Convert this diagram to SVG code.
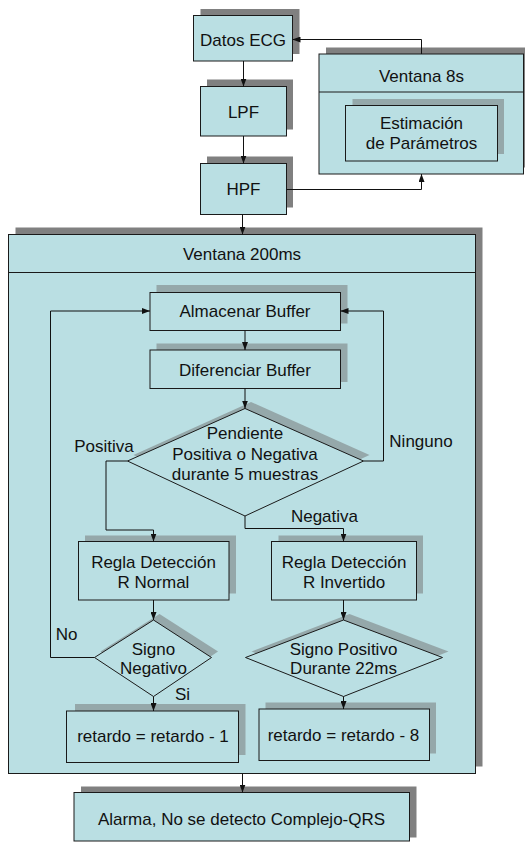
<svg xmlns="http://www.w3.org/2000/svg" width="525" height="842" viewBox="0 0 525 842">
  <style>
    .box { fill: #badfe3; stroke: #1a1a1a; stroke-width: 1; }
    .sh-out { fill: #808080; }
    .sh-in { fill: #95a8aa; }
    .t { font-family: "Liberation Sans", Arial, sans-serif; font-size: 17px; fill: #111; text-anchor: middle; }
    .lbl { font-family: "Liberation Sans", Arial, sans-serif; font-size: 15px; fill: #111; text-anchor: middle; }
    .wire { fill: none; stroke: #111; stroke-width: 1; }
    .arr { marker-end: url(#ah); }
  </style>
  <defs>
    <marker id="ah" viewBox="0 0 8 6" refX="8" refY="3" markerWidth="8" markerHeight="6" orient="auto" markerUnits="userSpaceOnUse">
      <path d="M0,0 L8,3 L0,6 z" fill="#111"/>
    </marker>
  </defs>
  <rect width="525" height="842" fill="#fff"/>

  <!-- Top pipeline -->
  <g id="datos-ecg">
    <rect class="sh-out" x="200.5" y="9" width="99" height="45"/>
    <rect class="box" x="193.5" y="15.5" width="99" height="45.5"/>
    <text class="t" x="243" y="45.5">Datos ECG</text>
  </g>
  <g id="lpf">
    <rect class="sh-out" x="207" y="79.5" width="86" height="50"/>
    <rect class="box" x="200.5" y="86.5" width="86" height="49.5"/>
    <text class="t" x="243.5" y="117.5">LPF</text>
  </g>
  <g id="hpf">
    <rect class="sh-out" x="207" y="156.5" width="86" height="51"/>
    <rect class="box" x="200.5" y="163.5" width="86" height="51"/>
    <text class="t" x="243.5" y="195">HPF</text>
  </g>

  <!-- 8 s window -->
  <g id="ventana-8s">
    <rect class="sh-out" x="326" y="47.5" width="210" height="120"/>
    <rect class="box" x="319" y="54" width="204.5" height="120"/>
    <line x1="319" y1="92" x2="523.5" y2="92" stroke="#1a1a1a" stroke-width="1"/>
    <text class="t" x="421.5" y="81.5">Ventana 8s</text>
  </g>
  <g id="estimacion">
    <rect class="sh-in" x="352.5" y="99" width="151.5" height="55"/>
    <rect class="box" x="345.5" y="105.5" width="152" height="55.5"/>
    <text class="t" x="421.5" y="129">Estimación</text>
    <text class="t" x="421.5" y="149">de Parámetros</text>
  </g>

  <!-- 200 ms window -->
  <g id="ventana-200ms">
    <rect class="sh-out" x="15.5" y="227.5" width="467" height="539"/>
    <rect class="box" x="8.5" y="234.5" width="467" height="539"/>
    <line x1="8.5" y1="272.5" x2="475.5" y2="272.5" stroke="#1a1a1a" stroke-width="1"/>
    <text class="t" x="242" y="259.5">Ventana 200ms</text>
  </g>
  <g id="almacenar">
    <rect class="sh-in" x="156.5" y="285" width="191" height="38.5"/>
    <rect class="box" x="150" y="292.5" width="190.5" height="38"/>
    <text class="t" x="245" y="317">Almacenar Buffer</text>
  </g>
  <g id="diferenciar">
    <rect class="sh-in" x="156.5" y="343.5" width="191" height="38.5"/>
    <rect class="box" x="150" y="350" width="190.5" height="38.5"/>
    <text class="t" x="245" y="375.5">Diferenciar Buffer</text>
  </g>
  <g id="pendiente">
    <polygon class="sh-in" points="251,402 369.5,455 251,510 133.5,455"/>
    <polygon class="box" points="245,408.5 363.5,461 245,516 127.5,461"/>
    <text class="t" x="245" y="439">Pendiente</text>
    <text class="t" x="245" y="459.5">Positiva o Negativa</text>
    <text class="t" x="245" y="479.5">durante 5 muestras</text>
  </g>
  <g id="r-normal">
    <rect class="sh-in" x="85" y="535.5" width="151" height="58"/>
    <rect class="box" x="78.5" y="541.5" width="150.5" height="58.5"/>
    <text class="t" x="153.5" y="567.5">Regla Detección</text>
    <text class="t" x="153.5" y="587.5">R Normal</text>
  </g>
  <g id="r-invertido">
    <rect class="sh-in" x="278.5" y="535.5" width="144.5" height="58"/>
    <rect class="box" x="271.5" y="541.5" width="145" height="58.5"/>
    <text class="t" x="344" y="567.5">Regla Detección</text>
    <text class="t" x="344" y="587.5">R Invertido</text>
  </g>
  <g id="signo-negativo">
    <polygon class="sh-in" points="159.5,614 218,651.5 159.5,691 100.5,651.5"/>
    <polygon class="box" points="153.5,620 211.5,657.5 153.5,696.5 94.5,657.5"/>
    <text class="t" x="153.5" y="655">Signo</text>
    <text class="t" x="153.5" y="674">Negativo</text>
  </g>
  <g id="signo-positivo">
    <polygon class="sh-in" points="349.5,614 448.5,651.5 349.5,691 251.5,651.5"/>
    <polygon class="box" points="343.5,620 442.5,657.5 343.5,696.5 245.5,657.5"/>
    <text class="t" x="343.5" y="655">Signo Positivo</text>
    <text class="t" x="343.5" y="674">Durante 22ms</text>
  </g>
  <g id="retardo-1">
    <rect class="sh-in" x="75" y="704" width="170.5" height="51"/>
    <rect class="box" x="66.5" y="711" width="172" height="51.5"/>
    <text class="t" x="153" y="742">retardo = retardo - 1</text>
  </g>
  <g id="retardo-8">
    <rect class="sh-in" x="265.5" y="702.5" width="170.5" height="51"/>
    <rect class="box" x="259" y="709" width="170.5" height="51.5"/>
    <text class="t" x="343.5" y="741">retardo = retardo - 8</text>
  </g>

  <!-- Alarm -->
  <g id="alarma">
    <rect class="sh-out" x="81" y="786.5" width="335.5" height="51"/>
    <rect class="box" x="74" y="792.5" width="335.5" height="48.5"/>
    <text class="t" x="241.5" y="825">Alarma, No se detecto Complejo-QRS</text>
  </g>

  <!-- Branch labels -->
  <g id="labels">
    <text class="t" x="104" y="451.5">Positiva</text>
    <text class="t" x="421" y="446.5">Ninguno</text>
    <text class="t" x="324.5" y="521.5">Negativa</text>
    <text class="t" x="66.5" y="639.5">No</text>
    <text class="t" x="182.5" y="700">Si</text>
  </g>

  <!-- Connectors -->
  <g id="connectors">
    <path class="wire arr" d="M243.5,61 V86.5"/>
    <path class="wire arr" d="M243.5,136 V163.5"/>
    <path class="wire arr" d="M242.5,214.5 V234.5"/>
    <path class="wire arr" d="M286.5,189.5 H421.5 V174"/>
    <path class="wire arr" d="M421.5,54 V39.5 H292.5"/>
    <path class="wire arr" d="M245,330.5 V350"/>
    <path class="wire arr" d="M245,388.5 V408.5"/>
    <path class="wire arr" d="M127.5,461 H106 V530 H153.5 V541.5"/>
    <path class="wire arr" d="M245,516 V528.5 H343.5 V541.5"/>
    <path class="wire arr" d="M363.5,461 H383.5 V311 H340.5"/>
    <path class="wire arr" d="M153.5,600 V620"/>
    <path class="wire arr" d="M94.5,657.5 H50.5 V311 H150"/>
    <path class="wire arr" d="M153.5,696.5 V711"/>
    <path class="wire arr" d="M343.5,600 V620"/>
    <path class="wire arr" d="M343.5,696.5 V709"/>
    <path class="wire arr" d="M242.5,773.5 V792.5"/>
  </g>
</svg>
